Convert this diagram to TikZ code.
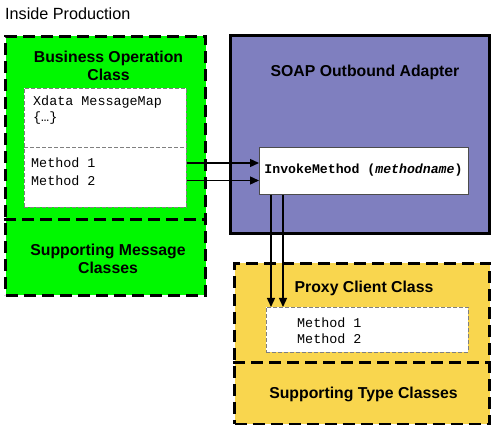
\documentclass[tikz,border=0pt]{standalone}
\usepackage{fontspec}
\setmainfont{Liberation Sans}
\setmonofont{Liberation Mono}
\usetikzlibrary{arrows.meta}
\definecolor{bgreen}{HTML}{00F800}
\definecolor{bpurple}{HTML}{7F7FBF}
\definecolor{byellow}{HTML}{F9D64E}
\definecolor{ddash}{HTML}{808080}
\begin{document}
\begin{tikzpicture}[x=1pt,y=-1pt,
  outerbox/.style={draw=black,line width=3pt,dash pattern=on 12pt off 6pt,minimum width=#1,inner sep=0pt,anchor=north west},
  innerbox/.style={draw=ddash,line width=0.8pt,dash pattern=on 4pt off 2pt,fill=white,inner sep=0pt,anchor=north west},
  head/.style={font=\fontsize{15.8}{18}\selectfont\bfseries,align=center,inner sep=0pt},
  mono/.style={font=\fontsize{13.4}{16}\ttfamily,inner sep=0pt,anchor=west},
  arr/.style={line width=1.4pt,-{Triangle[length=9pt,width=8pt]}}]
\useasboundingbox (0,0) rectangle (491,425);
% label
\node[anchor=west,font=\fontsize{16.2}{18}\selectfont,inner sep=0pt] (lbl) at (5,14) {Inside Production};
% green
\node[outerbox=200pt,minimum height=259pt,fill=bgreen] (green) at (4,35) {};
\draw[line width=3pt,dash pattern=on 12pt off 6pt] (green.west |- 0,220) coordinate (gdl) -- (green.east |- 0,220) coordinate (gdr);
\node[head] (bizt) at (108.5,66) {Business Operation\\Class};
\node[innerbox,minimum width=162pt,minimum height=119pt] (biz) at (24,88) {};
\draw[draw=ddash,line width=0.8pt,dash pattern=on 4pt off 2pt] (biz.west |- 0,147) coordinate (bdl) -- (biz.east |- 0,147) coordinate (bdr);
\node[mono] (xd) at (33,102) {Xdata MessageMap};
\node[mono] (xb) at (33,118) {\{…\}};
\node[mono] (m1) at (31,163) {Method 1};
\node[mono] (m2) at (31,180.5) {Method 2};
\node[head] (smc) at (108,258.5) {Supporting Message\\Classes};
% purple
\node[draw=black,line width=3pt,fill=bpurple,minimum width=259pt,minimum height=198pt,inner sep=0pt,anchor=north west] (purple) at (229,34) {};
\node[head] (soapt) at (365,72) {SOAP Outbound Adapter};
\node[draw=black!70,line width=0.8pt,fill=white,minimum width=209pt,minimum height=47pt,inner sep=0pt,anchor=north west] (invoke) at (259,147) {};
\node[mono,anchor=center,font=\fontsize{13.2}{16}\ttfamily] (invt) at (363.5,170.5) {\bfseries InvokeMethod (\textit{methodname})};
% yellow
\node[outerbox=255pt,minimum height=161pt,fill=byellow] (yellow) at (233,262) {};
\draw[line width=3pt,dash pattern=on 12pt off 6pt] (yellow.west |- 0,363) coordinate (ydl) -- (yellow.east |- 0,363) coordinate (ydr);
\node[head] (pct) at (364,288) {Proxy Client Class};
\node[innerbox,minimum width=202pt,minimum height=45pt] (proxy) at (266,307) {};
\node[mono] (p1) at (297,323) {Method 1};
\node[mono] (p2) at (297,339) {Method 2};
\node[head] (stc) at (363.5,394) {Supporting Type Classes};
% connectors
\draw[arr] (m1 -| biz.east) -- (m1 -| invoke.west);
\draw[arr] (m2 -| biz.east) -- (m2 -| invoke.west);
\coordinate (d1) at ([xshift=12pt]invoke.south west);
\coordinate (d2) at ([xshift=24pt]invoke.south west);
\draw[arr] (d1) -- (d1 |- proxy.north);
\draw[arr] (d2) -- (d2 |- proxy.north);
\end{tikzpicture}
\end{document}
